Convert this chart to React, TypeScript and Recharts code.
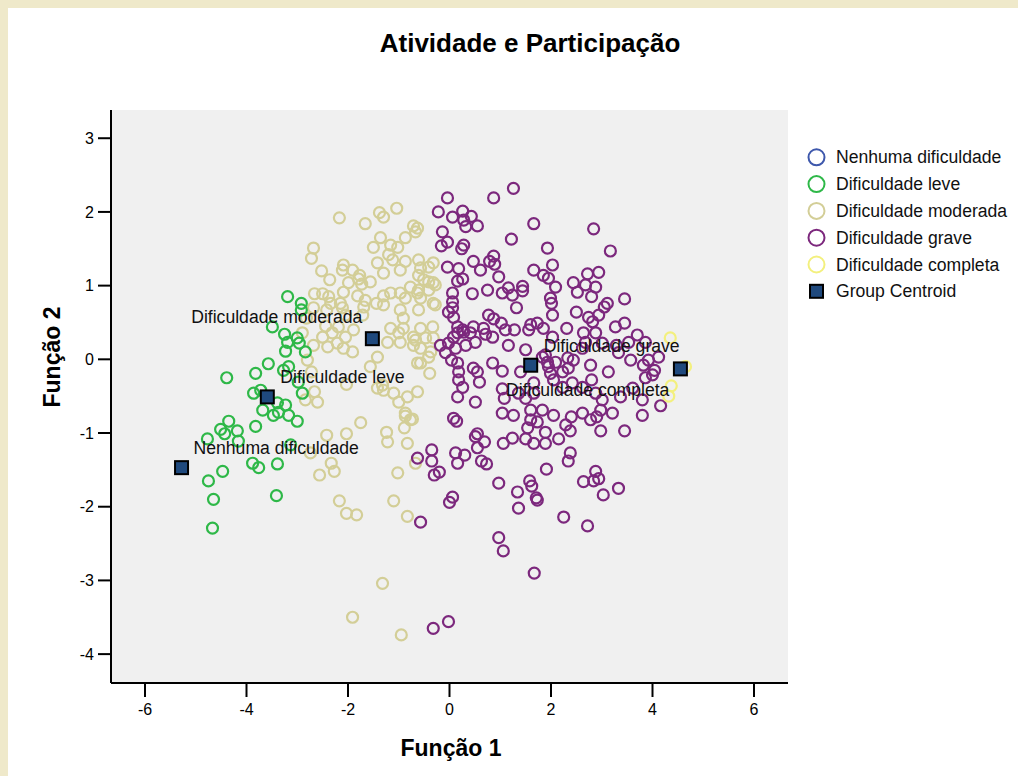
import React from 'react';
import { ScatterChart, Scatter, XAxis, YAxis, CartesianGrid } from 'recharts';

// ---- data (Função 1, Função 2) ----
const nenhumaPoints: [number, number][] = [];

const levePoints: [number, number][] = [
  [-3.19, 0.85], [-2.92, 0.76], [-2.92, 0.67], [-3.49, 0.44], [-3.25, 0.34], [-3.19, 0.23],
  [-3.0, 0.29], [-2.96, 0.22], [-3.23, 0.11], [-2.84, 0.1], [-3.57, -0.06], [-3.82, -0.19],
  [-4.39, -0.25], [-3.27, -0.15], [-3.17, -0.1], [-2.98, -0.31], [-2.9, -0.46], [-3.86, -0.46],
  [-3.72, -0.42], [-3.68, -0.69], [-3.39, -0.59], [-3.23, -0.62], [-3.37, -0.72], [-3.17, -0.76],
  [-4.35, -0.84], [-3.0, -0.84], [-4.51, -0.95], [-4.18, -0.97], [-4.43, -1.01], [-4.16, -1.11],
  [-4.77, -1.08], [-3.82, -0.91], [-3.47, -0.76], [-3.13, -1.16], [-3.88, -1.41], [-3.76, -1.47],
  [-3.39, -1.42], [-4.47, -1.52], [-4.75, -1.65], [-4.65, -1.9], [-3.41, -1.85], [-4.67, -2.29],
];

const moderadaPoints: [number, number][] = [
  [-2.17, 1.92], [-1.38, 1.99], [-1.04, 2.05], [-1.3, 1.93], [-1.66, 1.84], [-0.71, 1.81],
  [-0.67, 1.73], [-1.36, 1.65], [-0.87, 1.65], [-1.16, 1.55], [-1.5, 1.52], [-1.02, 1.52],
  [-2.68, 1.51], [-2.72, 1.37], [-1.2, 1.42], [-1.12, 1.35], [-1.42, 1.31], [-0.87, 1.33],
  [-2.09, 1.28], [-2.11, 1.21], [-2.52, 1.2], [-1.91, 1.21], [-1.77, 1.14], [-1.3, 1.17],
  [-0.97, 1.21], [-2.36, 1.08], [-1.99, 1.04], [-1.79, 1.09], [-1.73, 1.02], [-1.56, 1.05],
  [-0.61, 1.14], [-0.77, 0.98], [-2.09, 0.91], [-2.66, 0.89], [-2.5, 0.89], [-2.38, 0.85],
  [-2.34, 0.76], [-2.15, 0.76], [-1.81, 0.86], [-1.66, 0.8], [-1.3, 0.86], [-1.16, 0.9],
  [-0.97, 0.9], [-0.87, 0.83], [-0.63, 0.9], [-1.44, 0.76], [-2.68, 0.7], [-2.42, 0.67],
  [-2.11, 0.7], [-2.05, 0.6], [-1.69, 0.71], [-1.71, 0.6], [-1.3, 0.74], [-0.97, 0.67],
  [-0.91, 0.56], [-0.61, 0.67], [-2.44, 0.45], [-2.31, 0.36], [-2.19, 0.44], [-2.05, 0.3],
  [-1.89, 0.4], [-2.5, 0.3], [-2.68, 0.19], [-2.4, 0.17], [-2.21, 0.22], [-1.91, 0.1],
  [-2.09, 0.15], [-1.16, 0.42], [-1.0, 0.36], [-0.91, 0.42], [-1.22, 0.23], [-0.97, 0.23],
  [-0.71, 0.3], [-0.71, 0.19], [-1.42, 0.03], [-1.56, -0.1], [-0.63, -0.05], [-1.32, -0.35],
  [-1.3, -0.42], [-0.83, -0.51], [-1.0, -0.58], [-0.63, -0.44], [-2.66, -0.44], [-2.6, -0.58],
  [-2.84, -0.55], [-0.87, -0.73], [-0.77, -0.82], [-1.75, -0.86], [-0.32, 1.31], [-0.41, 1.25],
  [-0.32, 1.04], [-0.41, 1.05], [-0.32, 0.76], [-0.32, 0.29], [-0.37, 0.1], [-0.57, 0.15],
  [-0.39, -0.19], [-0.57, -0.05], [-1.1, -0.46], [-0.63, 1.78], [-0.61, 1.35], [-0.57, 1.24],
  [-0.51, 1.08], [-0.28, 1.01], [-0.41, 0.94], [-0.61, 0.94], [-0.28, 0.74], [-0.57, 0.83],
  [-0.33, 0.44], [-0.57, 0.42], [-0.47, 0.29], [-0.67, 0.26], [-0.41, 0.03], [-2.42, -1.03],
  [-2.03, -1.01], [-2.74, -1.27], [-2.33, -1.41], [-2.27, -1.52], [-2.56, -1.57], [-2.17, -1.92],
  [-2.03, -2.09], [-1.83, -2.11], [-1.24, -0.99], [-1.22, -1.12], [-0.87, -0.77], [-0.89, -0.93],
  [-0.83, -1.14], [-1.02, -1.54], [-1.1, -1.92], [-0.83, -2.13], [-1.32, -3.04], [-1.91, -3.5],
  [-0.95, -3.74], [-2.03, -0.34], [-0.73, -0.81], [-0.67, -1.41], [-1.42, -0.39], [-2.82, 0.56],
  [-2.9, 0.36], [-2.72, -0.17], [-2.8, -0.01],
];

const gravePoints: [number, number][] = [
  [-0.04, 2.19], [0.87, 2.19], [1.26, 2.32], [-0.22, 2.0], [0.06, 1.93], [0.26, 2.01],
  [0.28, 1.89], [0.43, 1.94], [0.32, 1.8], [0.55, 1.81], [1.66, 1.84], [2.84, 1.77],
  [-0.14, 1.73], [-0.04, 1.59], [-0.16, 1.54], [0.28, 1.55], [0.24, 1.5], [1.22, 1.63],
  [1.93, 1.51], [3.17, 1.47], [0.87, 1.4], [0.79, 1.33], [0.89, 1.29], [0.47, 1.33],
  [-0.04, 1.25], [0.18, 1.23], [0.61, 1.21], [2.03, 1.28], [1.66, 1.21], [1.85, 1.14],
  [1.95, 1.1], [0.97, 1.12], [2.72, 1.16], [2.94, 1.18], [0.16, 1.06], [0.26, 1.09],
  [0.75, 0.94], [1.16, 0.97], [1.44, 0.99], [1.24, 0.87], [1.44, 0.93], [1.04, 0.9],
  [0.45, 0.89], [0.06, 0.9], [0.06, 0.78], [2.09, 0.98], [2.44, 1.04], [2.68, 1.01],
  [2.88, 0.98], [2.52, 0.91], [2.8, 0.85], [1.99, 0.83], [2.01, 0.76], [3.11, 0.76],
  [3.45, 0.82], [3.05, 0.71], [1.32, 0.7], [-0.02, 0.64], [0.08, 0.57], [0.06, 0.7],
  [0.77, 0.6], [0.87, 0.55], [2.03, 0.6], [2.5, 0.64], [2.74, 0.57], [2.94, 0.6],
  [2.82, 0.51], [3.27, 0.44], [3.45, 0.49], [0.16, 0.44], [0.26, 0.4], [0.47, 0.44],
  [0.67, 0.42], [0.71, 0.34], [1.02, 0.49], [1.1, 0.4], [1.28, 0.4], [1.6, 0.47],
  [1.73, 0.49], [1.56, 0.4], [1.85, 0.42], [2.31, 0.42], [2.03, 0.3], [2.64, 0.36],
  [2.88, 0.36], [2.68, 0.23], [3.01, 0.22], [3.29, 0.19], [3.7, 0.33], [3.53, 0.23],
  [3.86, 0.23], [4.12, 0.03], [3.92, -0.01], [3.57, -0.01], [3.33, 0.09], [3.82, -0.08],
  [4.04, -0.15], [4.0, -0.21], [3.86, -0.25], [0.08, 0.3], [0.16, 0.36], [0.28, 0.37],
  [0.41, 0.36], [-0.18, 0.19], [-0.02, 0.22], [-0.08, 0.09], [0.12, 0.15], [0.32, 0.19],
  [0.51, 0.23], [0.85, 0.3], [1.16, 0.19], [1.5, 0.13], [0.04, -0.01], [0.16, -0.05],
  [0.18, -0.17], [0.47, -0.12], [0.55, -0.17], [0.85, -0.05], [1.04, -0.16], [1.4, -0.17],
  [1.83, 0.03], [1.93, -0.04], [1.89, 0.06], [2.09, -0.04], [2.33, 0.02], [2.34, -0.12],
  [2.44, -0.01], [2.62, 0.15], [2.78, -0.08], [3.13, -0.17], [2.23, -0.17], [1.99, -0.19],
  [1.95, -0.1], [0.18, -0.28], [0.26, -0.38], [0.16, -0.51], [0.51, -0.58], [0.59, -0.31],
  [1.04, -0.4], [1.08, -0.53], [1.36, -0.46], [1.5, -0.53], [1.66, -0.32], [1.66, -0.46],
  [2.05, -0.28], [2.23, -0.38], [2.42, -0.32], [2.62, -0.38], [2.8, -0.28], [2.88, -0.46],
  [3.01, -0.55], [3.37, -0.51], [3.8, -0.55], [4.16, -0.63], [3.61, -0.39], [1.04, -0.73],
  [1.26, -0.76], [1.6, -0.69], [1.83, -0.69], [2.05, -0.76], [2.62, -0.73], [2.78, -0.82],
  [2.98, -0.69], [3.21, -0.73], [3.8, -0.76], [0.08, -0.8], [0.14, -0.84], [1.6, -0.82],
  [1.73, -0.85], [1.54, -0.93], [1.89, -0.99], [1.5, -1.08], [1.66, -1.14], [1.89, -1.14],
  [1.24, -1.07], [1.06, -1.14], [2.15, -1.08], [2.29, -0.89], [2.4, -0.78], [2.38, -0.97],
  [2.9, -0.78], [2.98, -0.97], [3.45, -0.97], [0.55, -1.01], [0.51, -1.05], [0.69, -1.12],
  [0.55, -1.2], [-0.35, -1.23], [-0.35, -1.38], [0.12, -1.27], [0.16, -1.41], [0.3, -1.3],
  [0.63, -1.38], [0.73, -1.42], [-0.3, -1.57], [-0.2, -1.53], [0.97, -1.68], [1.34, -1.8],
  [1.36, -2.02], [1.58, -1.65], [1.62, -1.72], [1.71, -1.88], [1.73, -1.91], [1.91, -1.49],
  [2.34, -1.38], [2.38, -1.27], [2.88, -1.52], [2.64, -1.66], [2.84, -1.65], [2.94, -1.62],
  [3.03, -1.84], [3.33, -1.75], [2.25, -2.14], [2.72, -2.26], [0.06, -1.87], [0.0, -1.94],
  [-0.57, -2.21], [0.97, -2.42], [1.06, -2.6], [1.67, -2.9], [-0.02, -3.56], [-0.32, -3.65],
  [-0.63, -1.34],
];

const completaPoints: [number, number][] = [
  [4.35, 0.29], [4.65, -0.1], [4.37, -0.36], [4.32, -0.5],
];

const centroids = [
  { name: 'Nenhuma dificuldade', x: -5.28, y: -1.47 },
  { name: 'Dificuldade leve', x: -3.59, y: -0.51 },
  { name: 'Dificuldade moderada', x: -1.52, y: 0.28 },
  { name: 'Dificuldade grave', x: 1.6, y: -0.08 },
  { name: 'Dificuldade completa', x: 4.55, y: -0.13 },
];

const xTicks = [-6, -4, -2, 0, 2, 4, 6];
const yTicks = [-4, -3, -2, -1, 0, 1, 2, 3];
const xDomain: [number, number] = [-6.67, 6.67];
const yDomain: [number, number] = [-4.392, 3.383];

const titleText = 'Atividade e Participação';
const xTitle = 'Função 1';
const yTitle = 'Função 2';
const centroidLabel = 'Group Centroid';

// ---- styles ----
const FONT = '"Liberation Sans", Arial, sans-serif';
const LABEL_SIZE = 17.6;
const groups = [
  { name: 'Nenhuma dificuldade', color: '#3E58AC', points: nenhumaPoints },
  { name: 'Dificuldade leve', color: '#2EB848', points: levePoints },
  { name: 'Dificuldade moderada', color: '#D3CE97', points: moderadaPoints },
  { name: 'Dificuldade grave', color: '#7C287D', points: gravePoints },
  { name: 'Dificuldade completa', color: '#F3F07E', points: completaPoints },
];
const drawOrder = ['Dificuldade moderada', 'Dificuldade leve', 'Dificuldade grave', 'Dificuldade completa', 'Nenhuma dificuldade'];
const CENTROID_FILL = '#1F497D';

const labelPlacement: Record<string, { dx: number; dy: number; anchor: 'start' | 'end' }> = {
  'Nenhuma dificuldade': { dx: 12, dy: -14, anchor: 'start' },
  'Dificuldade leve': { dx: 13, dy: -14, anchor: 'start' },
  'Dificuldade moderada': { dx: -10, dy: -16, anchor: 'end' },
  'Dificuldade grave': { dx: 13, dy: -13, anchor: 'start' },
  'Dificuldade completa': { dx: -11, dy: 27, anchor: 'end' },
};

const toRows = (pts: [number, number][]) => pts.map(([x, y]) => ({ x, y }));

const makeCircle = (color: string) => (props: any) => {
  const { cx, cy } = props;
  if (cx == null || cy == null) return <g />;
  return <circle cx={cx} cy={cy} r={5.5} fill="none" stroke={color} strokeWidth={2.2} />;
};

const CentroidShape = (props: any) => {
  const { cx, cy, payload } = props;
  if (cx == null || cy == null) return <g />;
  const p = labelPlacement[payload.name];
  return (
    <g>
      <rect x={cx - 6.5} y={cy - 6.5} width={13} height={13} fill={CENTROID_FILL} stroke="#000" strokeWidth={2} />
      <text
        x={cx + p.dx}
        y={cy + p.dy}
        textAnchor={p.anchor}
        fontFamily={FONT}
        fontSize={LABEL_SIZE}
        fill="#111"
      >
        {payload.name}
      </text>
    </g>
  );
};

const tickStyle = { fontFamily: FONT, fontSize: 16, fill: '#000' };

export default function App() {
  return (
    <div style={{ position: 'absolute', left: 0, top: 0, width: 1018, height: 776, background: '#EFE9CA', overflow: 'hidden' }}>
      <div style={{ position: 'absolute', left: 8, top: 8, width: 1010, height: 768, background: '#FFFFFF' }}>
        <ScatterChart width={1010} height={768} margin={{ top: 102, right: 230, bottom: 0, left: 0 }}>
          <CartesianGrid fill="#F0F0F0" horizontal={false} vertical={false} />
          <XAxis
            xAxisId="top"
            orientation="top"
            type="number"
            dataKey="x"
            domain={xDomain}
            allowDataOverflow
            height={0}
            tick={false}
            tickLine={false}
            axisLine={{ stroke: '#707070', strokeWidth: 2 }}
          />
          <YAxis
            yAxisId="right"
            orientation="right"
            type="number"
            dataKey="y"
            domain={yDomain}
            allowDataOverflow
            width={0}
            tick={false}
            tickLine={false}
            axisLine={{ stroke: '#333', strokeWidth: 2 }}
          />
          <XAxis
            type="number"
            dataKey="x"
            domain={xDomain}
            ticks={xTicks}
            allowDataOverflow
            height={93}
            tickSize={14}
            tickMargin={7}
            tick={tickStyle}
            tickLine={{ stroke: '#000', strokeWidth: 2 }}
            axisLine={{ stroke: '#000', strokeWidth: 2 }}
          />
          <YAxis
            type="number"
            dataKey="y"
            domain={yDomain}
            ticks={yTicks}
            allowDataOverflow
            width={103}
            tickSize={13}
            tickMargin={4}
            tick={tickStyle}
            tickLine={{ stroke: '#000', strokeWidth: 2 }}
            axisLine={{ stroke: '#000', strokeWidth: 2 }}
          />
          {drawOrder.map((n) => {
            const g = groups.find((q) => q.name === n)!;
            return (
              <Scatter
                key={g.name}
                name={g.name}
                data={toRows(g.points)}
                shape={makeCircle(g.color)}
                isAnimationActive={false}
              />
            );
          })}
          <Scatter name={centroidLabel} data={centroids} shape={CentroidShape} isAnimationActive={false} />
        </ScatterChart>

        {/* title */}
        <div
          style={{
            position: 'absolute', left: 0, width: 1044, top: 20, textAlign: 'center',
            fontFamily: FONT, fontWeight: 'bold', fontSize: 26, color: '#000', lineHeight: '30px',
          }}
        >
          {titleText}
        </div>
        {/* x title */}
        <div
          style={{
            position: 'absolute', left: 0, width: 886, top: 726, textAlign: 'center',
            fontFamily: FONT, fontWeight: 'bold', fontSize: 23, color: '#000', lineHeight: '28px',
          }}
        >
          {xTitle}
        </div>
        {/* y title */}
        <div
          style={{
            position: 'absolute', left: 44 - 100, top: 349 - 14, width: 200, height: 28, textAlign: 'center',
            transform: 'rotate(-90deg)', transformOrigin: '100px 14px',
            fontFamily: FONT, fontWeight: 'bold', fontSize: 23, color: '#000', lineHeight: '28px',
          }}
        >
          {yTitle}
        </div>

        {/* legend */}
        <svg style={{ position: 'absolute', left: 790, top: 130 }} width={220} height={180}>
          {groups.map((g, i) => (
            <g key={g.name} transform={`translate(0, ${19.3 + i * 26.8})`}>
              <circle cx={18.5} cy={0} r={8} fill="none" stroke={g.color} strokeWidth={2} />
              <text x={38} y={6} fontFamily={FONT} fontSize={LABEL_SIZE} fill="#111">{g.name}</text>
            </g>
          ))}
          <g transform={`translate(0, ${19.3 + 5 * 26.8})`}>
            <rect x={12} y={-6.5} width={13} height={13} fill={CENTROID_FILL} stroke="#000" strokeWidth={2} />
            <text x={38} y={6} fontFamily={FONT} fontSize={LABEL_SIZE} fill="#111">{centroidLabel}</text>
          </g>
        </svg>
      </div>
    </div>
  );
}
